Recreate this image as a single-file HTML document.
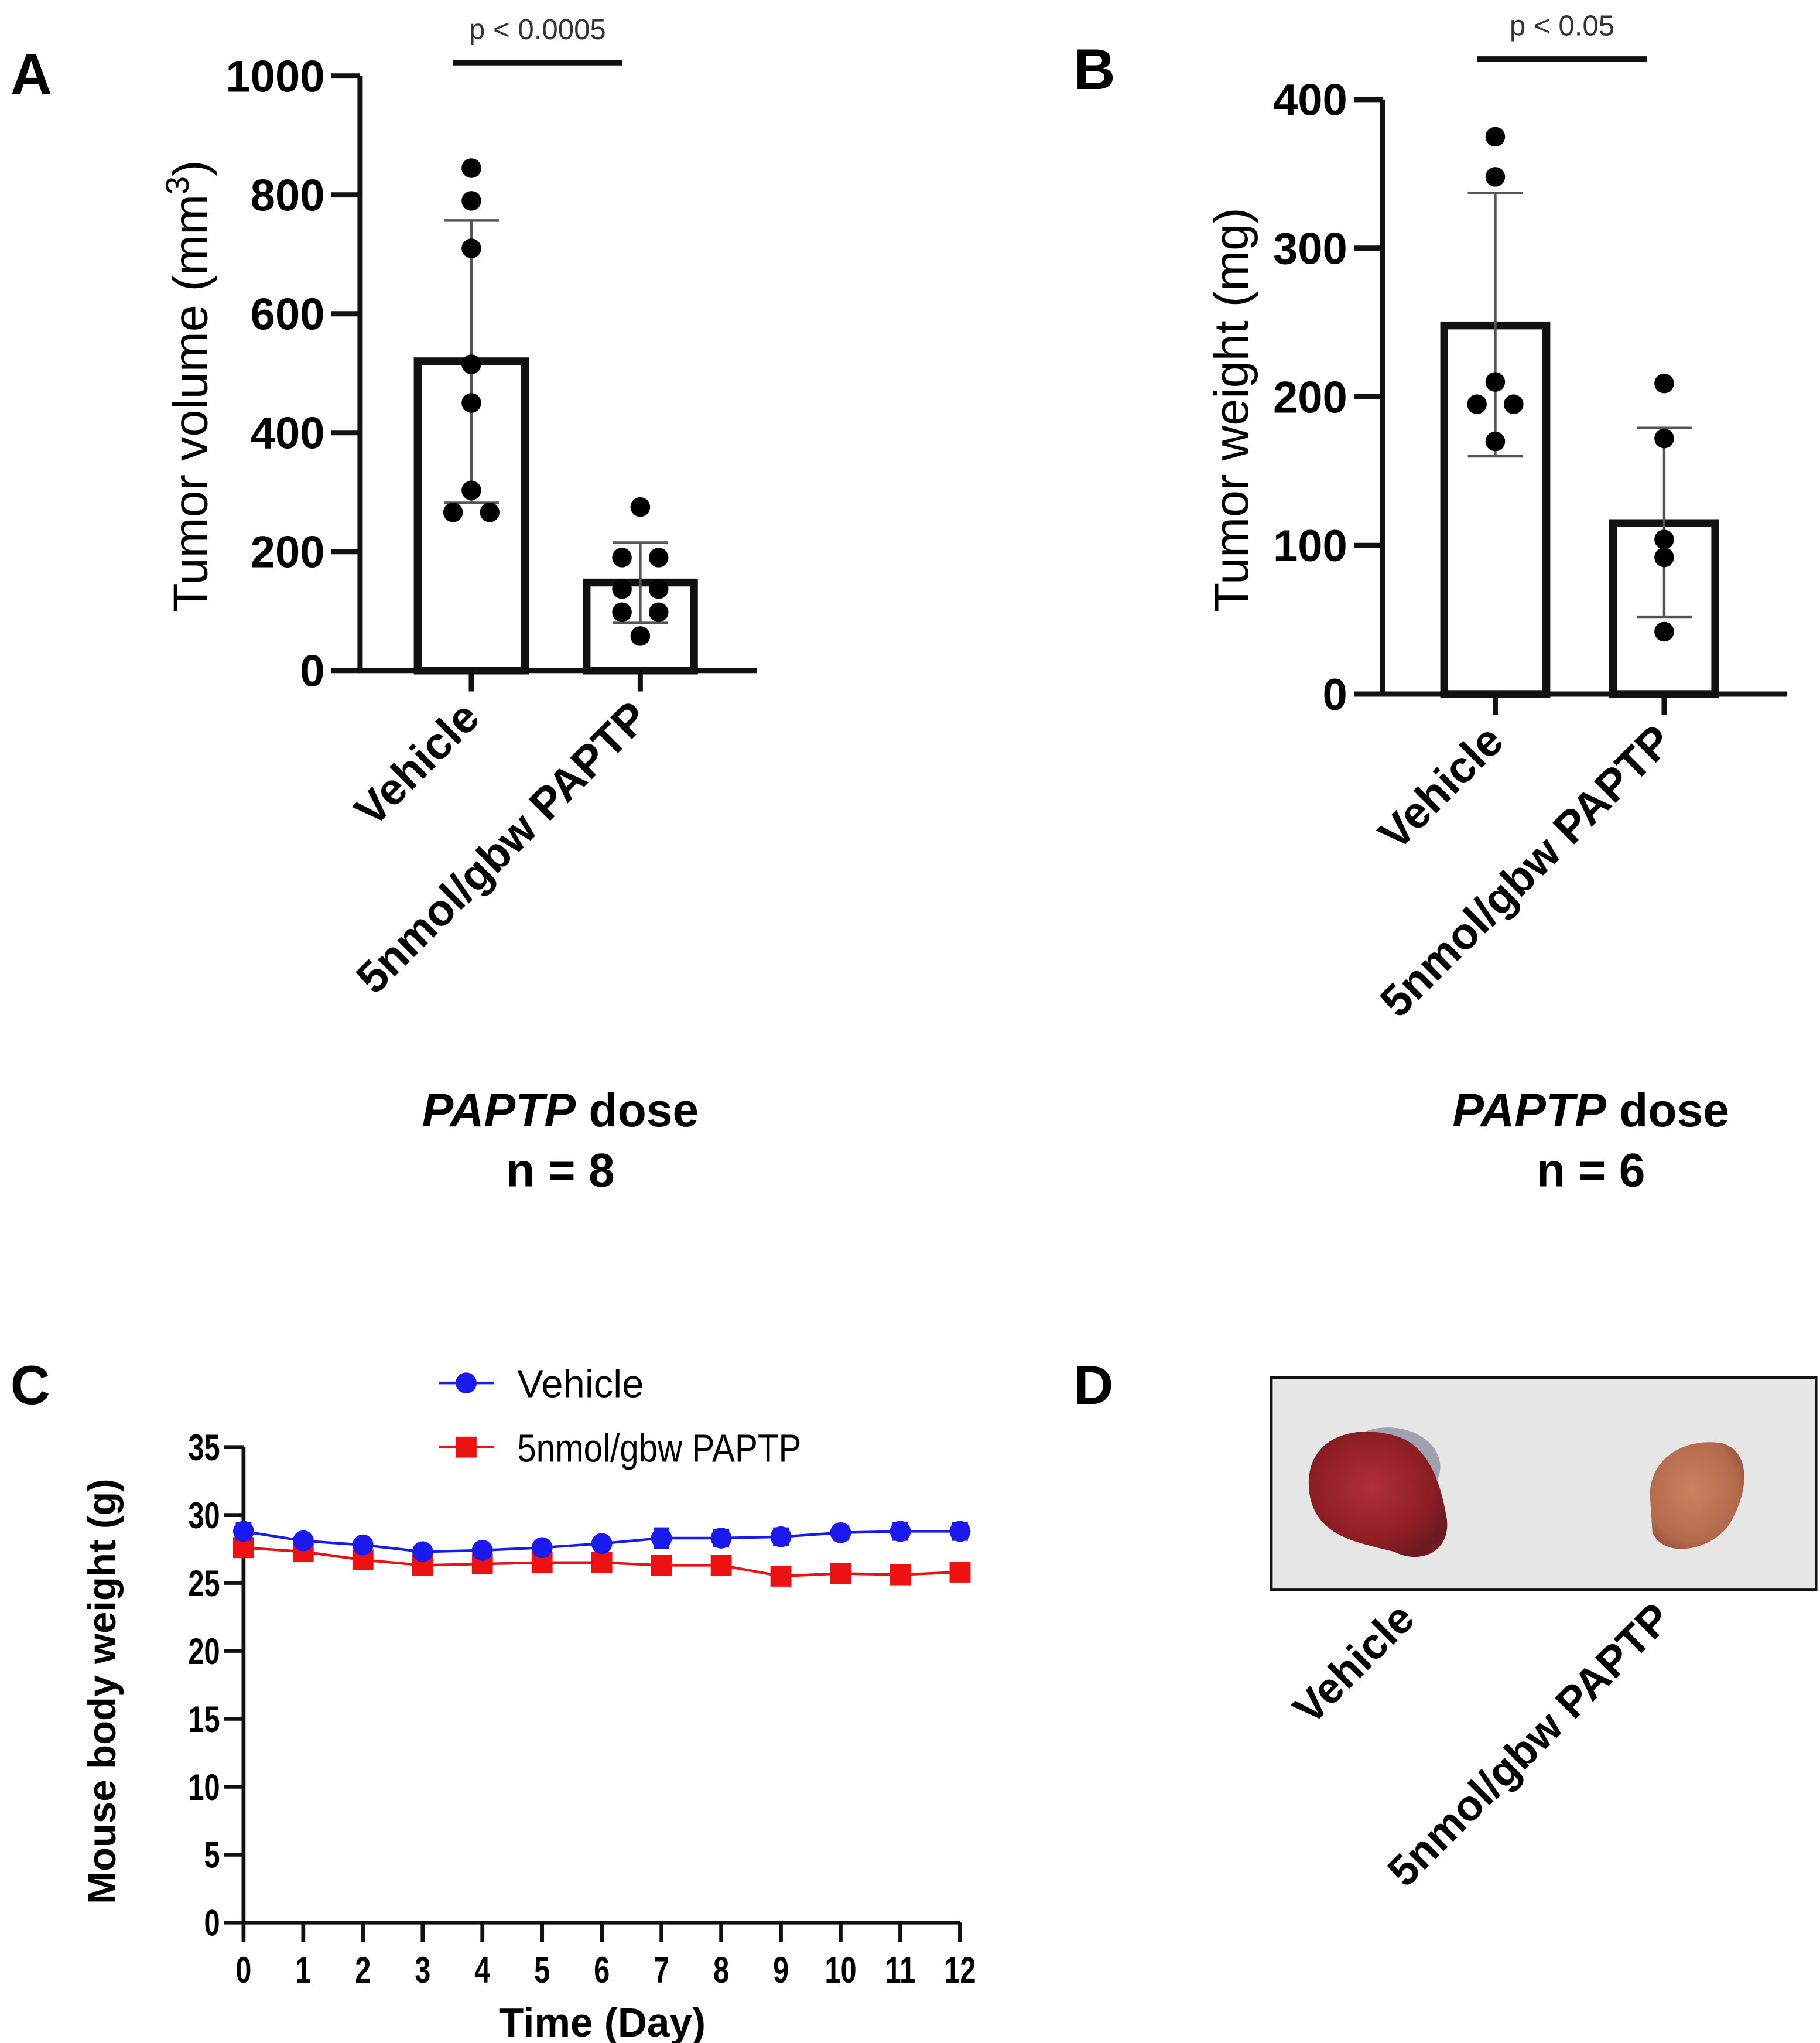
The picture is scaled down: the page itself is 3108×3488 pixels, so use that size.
<!DOCTYPE html>
<html><head><meta charset="utf-8"><style>
html,body{margin:0;padding:0;background:#fff;}
svg{display:block;font-family:"Liberation Sans",Arial,sans-serif;}
</style></head><body>
<svg id="fig" width="3108" height="3488" viewBox="0 0 1390 1560" preserveAspectRatio="none" xmlns="http://www.w3.org/2000/svg">
<defs>
<radialGradient id="t1" cx="45%" cy="45%" r="60%"><stop offset="0" stop-color="#b0303a"/><stop offset="0.7" stop-color="#8e1e24"/><stop offset="1" stop-color="#6d1a22"/></radialGradient>
<radialGradient id="t2" cx="45%" cy="45%" r="60%"><stop offset="0" stop-color="#c9825e"/><stop offset="0.8" stop-color="#b46a4c"/><stop offset="1" stop-color="#9c5640"/></radialGradient>
</defs>
<g id="gA"></g>
<g id="gB"></g>
<g id="gC"></g>
<g id="gD">
  <text x="820" y="1072" font-size="42" font-weight="bold">D</text>
  <rect x="971" y="1052" width="416" height="162" fill="#e6e6e6" stroke="#111" stroke-width="2"/>
  <ellipse cx="1060" cy="1120" rx="40" ry="30" fill="#5a5a78" opacity="0.5"/>
  <path d="M1000 1140 C995 1100 1030 1088 1060 1095 C1090 1100 1100 1130 1105 1160 C1108 1185 1085 1195 1065 1185 C1040 1178 1005 1175 1000 1140 Z" fill="url(#t1)"/>
  <path d="M1260 1140 C1262 1110 1290 1098 1315 1102 C1338 1108 1336 1140 1320 1165 C1305 1185 1270 1190 1262 1170 Z" fill="url(#t2)"/>
  <text transform="translate(1082,1238) rotate(-45)" text-anchor="end" font-size="33" font-weight="bold">Vehicle</text>
  <text transform="translate(1278,1238) rotate(-45)" text-anchor="end" font-size="33" font-weight="bold">5nmol/gbw PAPTP</text>
</g>
</svg>
<script>
// Panel A data
const aCats = ["Vehicle", "5nmol/gbw PAPTP"];
const aMeans = [520, 148];
const aLow = [282, 80];
const aHigh = [757, 215];
const aPtsVeh = [845, 790, 710, 515, 450, 303, 266, 266];
const aPtsDrug = [275, 190, 190, 137, 137, 98, 98, 58];
const aTicks = [0, 200, 400, 600, 800, 1000];
// Panel B data
const bCats = ["Vehicle", "5nmol/gbw PAPTP"];
const bMeans = [248, 115];
const bLow = [160, 52];
const bHigh = [337, 179];
const bPtsVeh = [375, 348, 210, 195, 195, 170];
const bPtsDrug = [209, 172, 104, 92, 42];
const bTicks = [0, 100, 200, 300, 400];
// Panel C data
const cDays = [0,1,2,3,4,5,6,7,8,9,10,11,12];
const cVeh = [28.8,28.1,27.8,27.3,27.4,27.6,27.9,28.3,28.3,28.4,28.7,28.8,28.8];
const cVehErr = [0.6,0.3,0.3,0.3,0.3,0.3,0.3,0.7,0.6,0.6,0.5,0.6,0.6];
const cDrug = [27.6,27.3,26.7,26.3,26.4,26.5,26.5,26.3,26.3,25.5,25.7,25.6,25.8];
const cDrugErr = [0.5,0.3,0.3,0.3,0.3,0.3,0.4,0.6,0.6,0.4,0.4,0.4,0.4];
const cYTicks = [0,5,10,15,20,25,30,35];

const NS="http://www.w3.org/2000/svg";
function mk(parent, tag, attrs, text){
  const e=document.createElementNS(NS,tag);
  for(const k in attrs) e.setAttribute(k,attrs[k]);
  if(text!==undefined) e.textContent=text;
  parent.appendChild(e); return e;
}

function barPanel(g, o){
  const y=v=>o.y0-(v/o.max)*(o.y0-o.yTop);
  let t=mk(g,'text',{x:o.letterX,y:o.letterY,'font-size':44,'font-weight':'bold'},o.letter);
  
  
  o.ticks.forEach(v=>{
    let l=mk(g,'line',{x1:o.ax-22,x2:o.ax,y1:y(v),y2:y(v),stroke:'#111','stroke-width':4});
    
    
    let tt=mk(g,'text',{x:o.ax-27,y:y(v)+12,'font-size':34,'font-weight':'bold','text-anchor':'end'},String(v));
    
    
  });
  const yt=mk(g,'text',{transform:`translate(${o.titleX},${(o.y0+o.yTop)/2+10}) rotate(-90)`,'font-size':37,'text-anchor':'middle'},'');
  
  
  yt.innerHTML=o.title;
  o.cats.forEach((c,i)=>{
    const cx=o.cx[i], w=o.bw;
    let r=mk(g,'rect',{x:cx-w/2,y:y(o.means[i]),width:w,height:o.y0-y(o.means[i]),fill:'#fff',stroke:'#111','stroke-width':6});
    
    
    let e=mk(g,'path',{d:`M${cx} ${y(o.low[i])}V${y(o.high[i])}M${cx-21} ${y(o.low[i])}h42M${cx-21} ${y(o.high[i])}h42`,stroke:'#555','stroke-width':2,fill:'none'});
    
    
    const pts=o.pts[i];
    const seen={};
    pts.forEach(v=>{
      seen[v]=(seen[v]||0)+1;
      const cnt=pts.filter(p=>p===v).length;
      const k=seen[v]-1;
      let dx=cnt===1?0:(cnt===2?(k===0?-14:14):(k-1)*14);
      let p=mk(g,'circle',{cx:cx+dx,cy:y(v),r:7.5,fill:'#000'});
      
      
    });
    let tk=mk(g,'line',{x1:cx,x2:cx,y1:o.y0,y2:o.y0+16,stroke:'#111','stroke-width':4});
    
    
    let cl=mk(g,'text',{transform:`translate(${cx+8},${o.y0+38}) rotate(-45)`,'font-size':34,'font-weight':'bold','text-anchor':'end'},c);
    
    
  });
  let ax=mk(g,'path',{d:`M${o.ax} ${o.yTop}V${o.y0}H${o.axEnd}`,stroke:'#111','stroke-width':4,fill:'none'});
  
  
  let pl=mk(g,'line',{x1:o.pX1,x2:o.pX2,y1:o.pY,y2:o.pY,stroke:'#111','stroke-width':4});
  
  
  let pt=mk(g,'text',{x:(o.pX1+o.pX2)/2,y:o.pY-18,'font-size':22,'text-anchor':'middle',fill:'#333'},o.pText);
  
  
  let d=mk(g,'text',{x:o.doseX,y:860,'font-size':36,'font-weight':'bold','text-anchor':'middle'},'');
  d.innerHTML='<tspan font-style="italic">PAPTP</tspan> dose';
  
  
  let n=mk(g,'text',{x:o.doseX,y:906,'font-size':36,'font-weight':'bold','text-anchor':'middle'},o.nText);
  
  
}

barPanel(document.getElementById('gA'),{letter:'A',letterX:8,letterY:72,ax:275,axEnd:578,y0:512,yTop:58,max:1000,ticks:aTicks,bw:82,
  title:'Tumor volume (mm<tspan dy="-14" font-size="25">3</tspan><tspan dy="14">)</tspan>',titleX:158,cats:aCats,cx:[360,489],
  means:aMeans,low:aLow,high:aHigh,pts:[aPtsVeh,aPtsDrug],pX1:346,pX2:475,pY:48,pText:'p < 0.0005',doseX:428,nText:'n = 8'});
barPanel(document.getElementById('gB'),{letter:'B',letterX:820,letterY:68,ax:1056,axEnd:1365,y0:530,yTop:76,max:400,ticks:bTicks,bw:78,
  title:'Tumor weight (mg)',titleX:953,cats:bCats,cx:[1142,1271],
  means:bMeans,low:bLow,high:bHigh,pts:[bPtsVeh,bPtsDrug],pX1:1128,pX2:1258,pY:45,pText:'p < 0.05',doseX:1215,nText:'n = 6'});

// Panel C
(function(){
  const g=document.getElementById('gC');
  const X0=186,XS=45.6,Y0=1468,YS=(1468-1105)/35;
  const x=d=>X0+d*XS, y=v=>Y0-v*YS;
  let t=mk(g,'text',{x:8,y:1072,'font-size':42,'font-weight':'bold'},'C');
  
  
  cYTicks.forEach(v=>{
    let l=mk(g,'line',{x1:X0-15,x2:X0,y1:y(v),y2:y(v),stroke:'#111','stroke-width':3});
    
    
    let tt=mk(g,'text',{x:X0-18,y:y(v)+10,'font-size':28,'font-weight':'bold','text-anchor':'end',transform:`translate(${(X0-18)*0.22},0) scale(0.78,1)`},String(v));
    
    
  });
  cDays.forEach(d=>{
    let l=mk(g,'line',{x1:x(d),x2:x(d),y1:Y0,y2:Y0+15,stroke:'#111','stroke-width':3});
    
    
    let tt=mk(g,'text',{x:x(d),y:Y0+46,'font-size':28,'font-weight':'bold','text-anchor':'middle',transform:`translate(${x(d)*0.22},0) scale(0.78,1)`},String(d));
    
    
  });
  let ax=mk(g,'path',{d:`M${X0} ${y(35)}V${Y0}H${x(12)}`,stroke:'#111','stroke-width':3,fill:'none'});
  
  
  let yt=mk(g,'text',{transform:`translate(88,${(Y0+y(35))/2+5}) rotate(-90)`,'font-size':30,'font-weight':'bold','text-anchor':'middle'},'Mouse body weight (g)');
  
  
  let xt=mk(g,'text',{x:460,y:1555,'font-size':31,'font-weight':'bold','text-anchor':'middle'},'Time (Day)');
  
  
  function series(vals,errs,col,shape,name){
    let p=mk(g,'polyline',{points:vals.map((v,i)=>x(cDays[i])+','+y(v)).join(' '),fill:'none',stroke:col,'stroke-width':2});
    
    
    vals.forEach((v,i)=>{
      const cx=x(cDays[i]),cy=y(v),e=errs[i]*YS;
      let eb=mk(g,'path',{d:`M${cx} ${cy-e}V${cy+e}M${cx-6} ${cy-e}h12M${cx-6} ${cy+e}h12`,stroke:col,'stroke-width':2});
      
      
      let m=shape==='c'?mk(g,'circle',{cx:cx,cy:cy,r:8,fill:col}):mk(g,'rect',{x:cx-8,y:cy-8,width:16,height:16,fill:col});
      
      
    });
  }
  series(cDrug,cDrugErr,'#ee1111','s','paptp');
  series(cVeh,cVehErr,'#1a1aee','c','vehicle');
  let l1=mk(g,'line',{x1:335,x2:377,y1:1056,y2:1056,stroke:'#1a1aee','stroke-width':2});
  
  
  let m1=mk(g,'circle',{cx:356,cy:1056,r:8,fill:'#1a1aee'});
  
  
  let t1=mk(g,'text',{x:395,y:1067,'font-size':30},'Vehicle');
  
  
  let l2=mk(g,'line',{x1:335,x2:377,y1:1105,y2:1105,stroke:'#ee1111','stroke-width':2});
  
  
  let m2=mk(g,'rect',{x:348,y:1097,width:16,height:16,fill:'#ee1111'});
  
  
  let t2=mk(g,'text',{x:395,y:1116,'font-size':30,textLength:217,lengthAdjust:'spacingAndGlyphs'},'5nmol/gbw PAPTP');
  
  
})();
</script>
</body></html>
